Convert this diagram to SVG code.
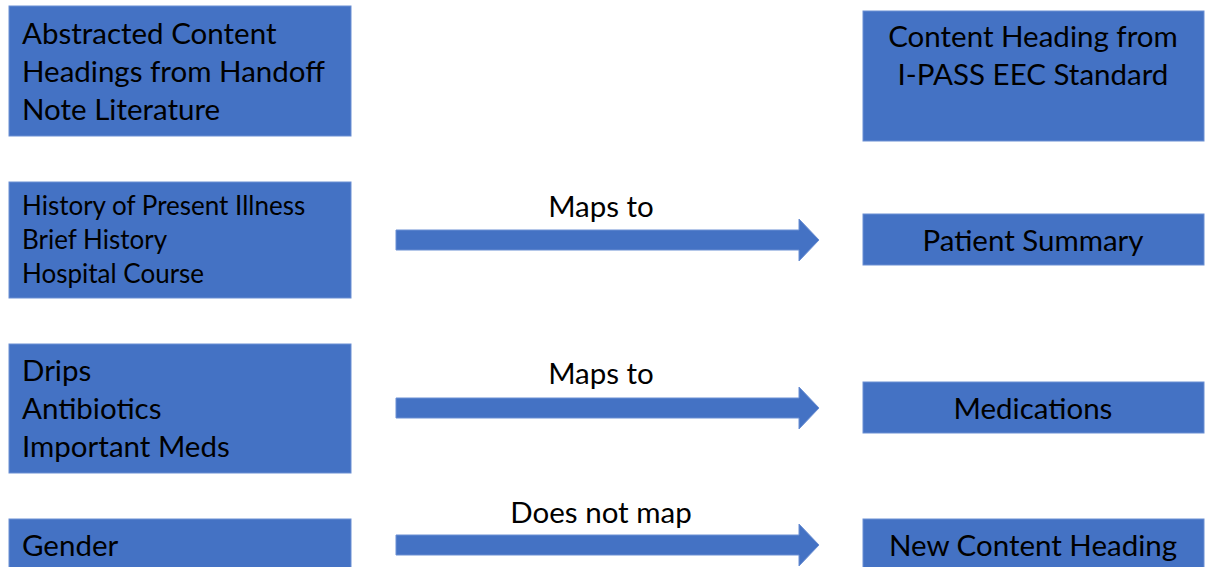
<svg xmlns="http://www.w3.org/2000/svg" width="1212" height="567" viewBox="0 0 1212 567">
<style>
.box{fill:#4472C4;stroke:#6B8FD3;stroke-width:1}
.arrow{fill:#4472C4;stroke:#6B8FD3;stroke-width:1}
text{font-family:Lato,"Open Sans","Liberation Sans",sans-serif;fill:#000}
.l{font-size:29.5px}
.s{font-size:26px}
.c{text-anchor:middle}
</style>
<rect width="1212" height="567" fill="#fff"/>
<g id="src-header">
<rect class="box" x="9" y="6" width="342" height="130"/>
<text class="l" x="22" y="44">Abstracted Content</text>
<text class="l" x="22" y="82">Headings from Handoff</text>
<text class="l" x="22" y="120">Note Literature</text>
</g>
<g id="dst-header">
<rect class="box" x="863" y="11" width="341" height="130"/>
<text class="l c" x="1033" y="47">Content Heading from</text>
<text class="l c" x="1033" y="85">I-PASS EEC Standard</text>
</g>
<g id="src-history">
<rect class="box" x="9" y="182" width="342" height="116"/>
<text class="s" x="22" y="215">History of Present Illness</text>
<text class="s" x="22" y="249">Brief History</text>
<text class="s" x="22" y="283">Hospital Course</text>
</g>
<g id="dst-summary">
<rect class="box" x="863" y="214" width="341" height="51"/>
<text class="l c" x="1033" y="251">Patient Summary</text>
</g>
<g id="src-meds">
<rect class="box" x="9" y="344" width="342" height="129"/>
<text class="l" x="22" y="381">Drips</text>
<text class="l" x="22" y="419">Antibiotics</text>
<text class="l" x="22" y="457">Important Meds</text>
</g>
<g id="dst-meds">
<rect class="box" x="863" y="382" width="341" height="51"/>
<text class="l c" x="1033" y="419">Medications</text>
</g>
<g id="src-gender">
<rect class="box" x="9" y="519" width="342" height="60"/>
<text class="l" x="22" y="556">Gender</text>
</g>
<g id="dst-new">
<rect class="box" x="863" y="519" width="341" height="60"/>
<text class="l c" x="1033" y="556">New Content Heading</text>
</g>
<g id="connectors">
<path class="arrow" d="M396,230 H799 V219 L819,240 L799,261 V250 H396 Z"/>
<text class="l c" x="601" y="217">Maps to</text>
<path class="arrow" d="M396,398 H799 V387 L819,408 L799,429 V418 H396 Z"/>
<text class="l c" x="601" y="384">Maps to</text>
<path class="arrow" d="M396,535 H799 V524 L819,545 L799,566 V555 H396 Z"/>
<text class="l c" x="601" y="523">Does not map</text>
</g>
</svg>
